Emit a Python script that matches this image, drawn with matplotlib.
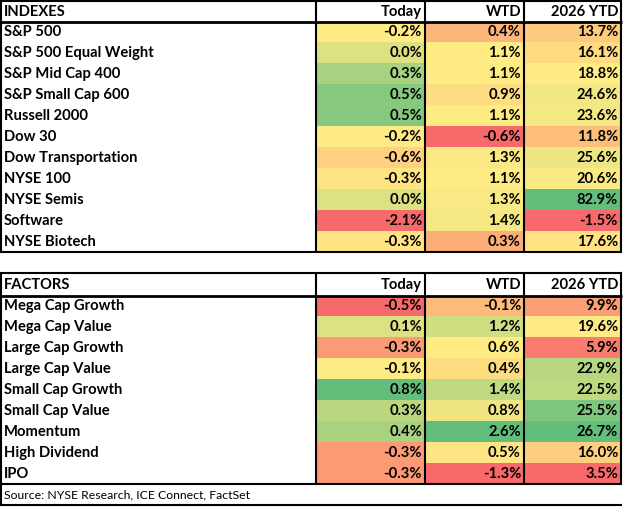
import matplotlib
matplotlib.use("Agg")
import matplotlib.pyplot as plt
import numpy as np
from matplotlib.patches import Rectangle

# ---------------- data ----------------
index_names = ["S&P 500", "S&P 500 Equal Weight", "S&P Mid Cap 400", "S&P Small Cap 600",
               "Russell 2000", "Dow 30", "Dow Transportation", "NYSE 100", "NYSE Semis",
               "Software", "NYSE Biotech"]
index_today = [-0.2, 0.0, 0.3, 0.5, 0.5, -0.2, -0.6, -0.3, 0.0, -2.1, -0.3]
index_wtd = [0.4, 1.1, 1.1, 0.9, 1.1, -0.6, 1.3, 1.1, 1.3, 1.4, 0.3]
index_ytd = [13.7, 16.1, 18.8, 24.6, 23.6, 11.8, 25.6, 20.6, 82.9, -1.5, 17.6]

factor_names = ["Mega Cap Growth", "Mega Cap Value", "Large Cap Growth", "Large Cap Value",
                "Small Cap Growth", "Small Cap Value", "Momentum", "High Dividend", "IPO"]
factor_today = [-0.5, 0.1, -0.3, -0.1, 0.8, 0.3, 0.4, -0.3, -0.3]
factor_wtd = [-0.1, 1.2, 0.6, 0.4, 1.4, 0.8, 2.6, 0.5, -1.3]
factor_ytd = [9.9, 19.6, 5.9, 22.9, 22.5, 25.5, 26.7, 16.0, 3.5]

col_headers = ["Today", "WTD", "2026 YTD"]
source_text = "Source: NYSE Research, ICE Connect, FactSet"

# ---------------- style ----------------
RED = np.array([0xF8, 0x69, 0x6B]) / 255
YEL = np.array([0xFF, 0xEB, 0x84]) / 255
GRN = np.array([0x63, 0xBE, 0x7B]) / 255


def scale_colors(vals, anchors=None):
    v = np.asarray(vals, float)
    lo, mid, hi = v.min(), np.median(v), v.max()
    if anchors:
        lo = anchors.get("lo", lo)
        hi = anchors.get("hi", hi)
    out = []
    for x in v:
        if x <= mid:
            t = 0 if mid == lo else max((x - lo) / (mid - lo), 0)
            c = RED + (YEL - RED) * t
        else:
            t = 0 if hi == mid else min((x - mid) / (hi - mid), 1)
            c = YEL + (GRN - YEL) * t
        out.append(tuple(c))
    return out


W, H = 624, 508
fig = plt.figure(figsize=(W / 100, H / 100), dpi=100)
ax = fig.add_axes([0, 0, 1, 1])
ax.set_xlim(0, W)
ax.set_ylim(H, 0)
ax.axis("off")

FONT = "Lato"
FS = 10.6
LW = 1.5

xs = [0.5, 316, 425, 524, 621]


def line(x0, y0, x1, y1, lw=LW):
    ax.plot([x0, x1], [y0, y1], color="black", lw=lw, solid_capstyle="butt", zorder=5)


def draw_table(top, header_bottom, bottom, title, names, cols, anchors):
    n = len(names)
    rh = (bottom - header_bottom) / n
    colors = [scale_colors(c, a) for c, a in zip(cols, anchors)]
    for j in range(3):
        for i in range(n):
            y0 = header_bottom + i * rh
            ax.add_patch(Rectangle((xs[j + 1], y0), xs[j + 2] - xs[j + 1], rh,
                                   facecolor=colors[j][i], edgecolor="none", zorder=1))
            ax.text(xs[j + 2] - 3, y0 + rh / 2 + 0.5, f"{cols[j][i]:.1f}%", ha="right",
                    va="center", fontsize=FS, fontweight="bold", family=FONT, zorder=6)
        ax.text(xs[j + 2] - 3, (top + header_bottom) / 2 + 0.5, col_headers[j], ha="right",
                va="center", fontsize=FS, fontweight="bold", family=FONT, zorder=6)
    for i, nm in enumerate(names):
        y0 = header_bottom + i * rh
        ax.text(4, y0 + rh / 2 + 0.5, nm, ha="left", va="center", fontsize=FS,
                fontweight="bold", family=FONT, zorder=6)
    ax.text(4, (top + header_bottom) / 2 + 0.5, title, ha="left", va="center", fontsize=FS,
            fontweight="bold", family=FONT, zorder=6)
    # borders
    line(0, top, xs[-1] + 0.5, top)
    line(0, header_bottom, xs[-1] + 0.5, header_bottom, lw=2)
    line(0, bottom, xs[-1] + 0.5, bottom)
    for x in xs:
        line(x, top, x, bottom)


draw_table(0.7, 21.5, 251.5, "INDEXES", index_names,
           [index_today, index_wtd, index_ytd], [{"hi": 0.7}, {"hi": 6.0}, None])
draw_table(273, 295.5, 483.5, "FACTORS", factor_names,
           [factor_today, factor_wtd, factor_ytd], [{"lo": -0.42}, None, None])

# source row
line(xs[0], 483.5, xs[0], 505)
line(0, 505, xs[-1] + 1, 505)
ax.text(4, 495, source_text, ha="left", va="center", fontsize=8.8, family=FONT, zorder=6)

fig.savefig("out.png", dpi=100)
